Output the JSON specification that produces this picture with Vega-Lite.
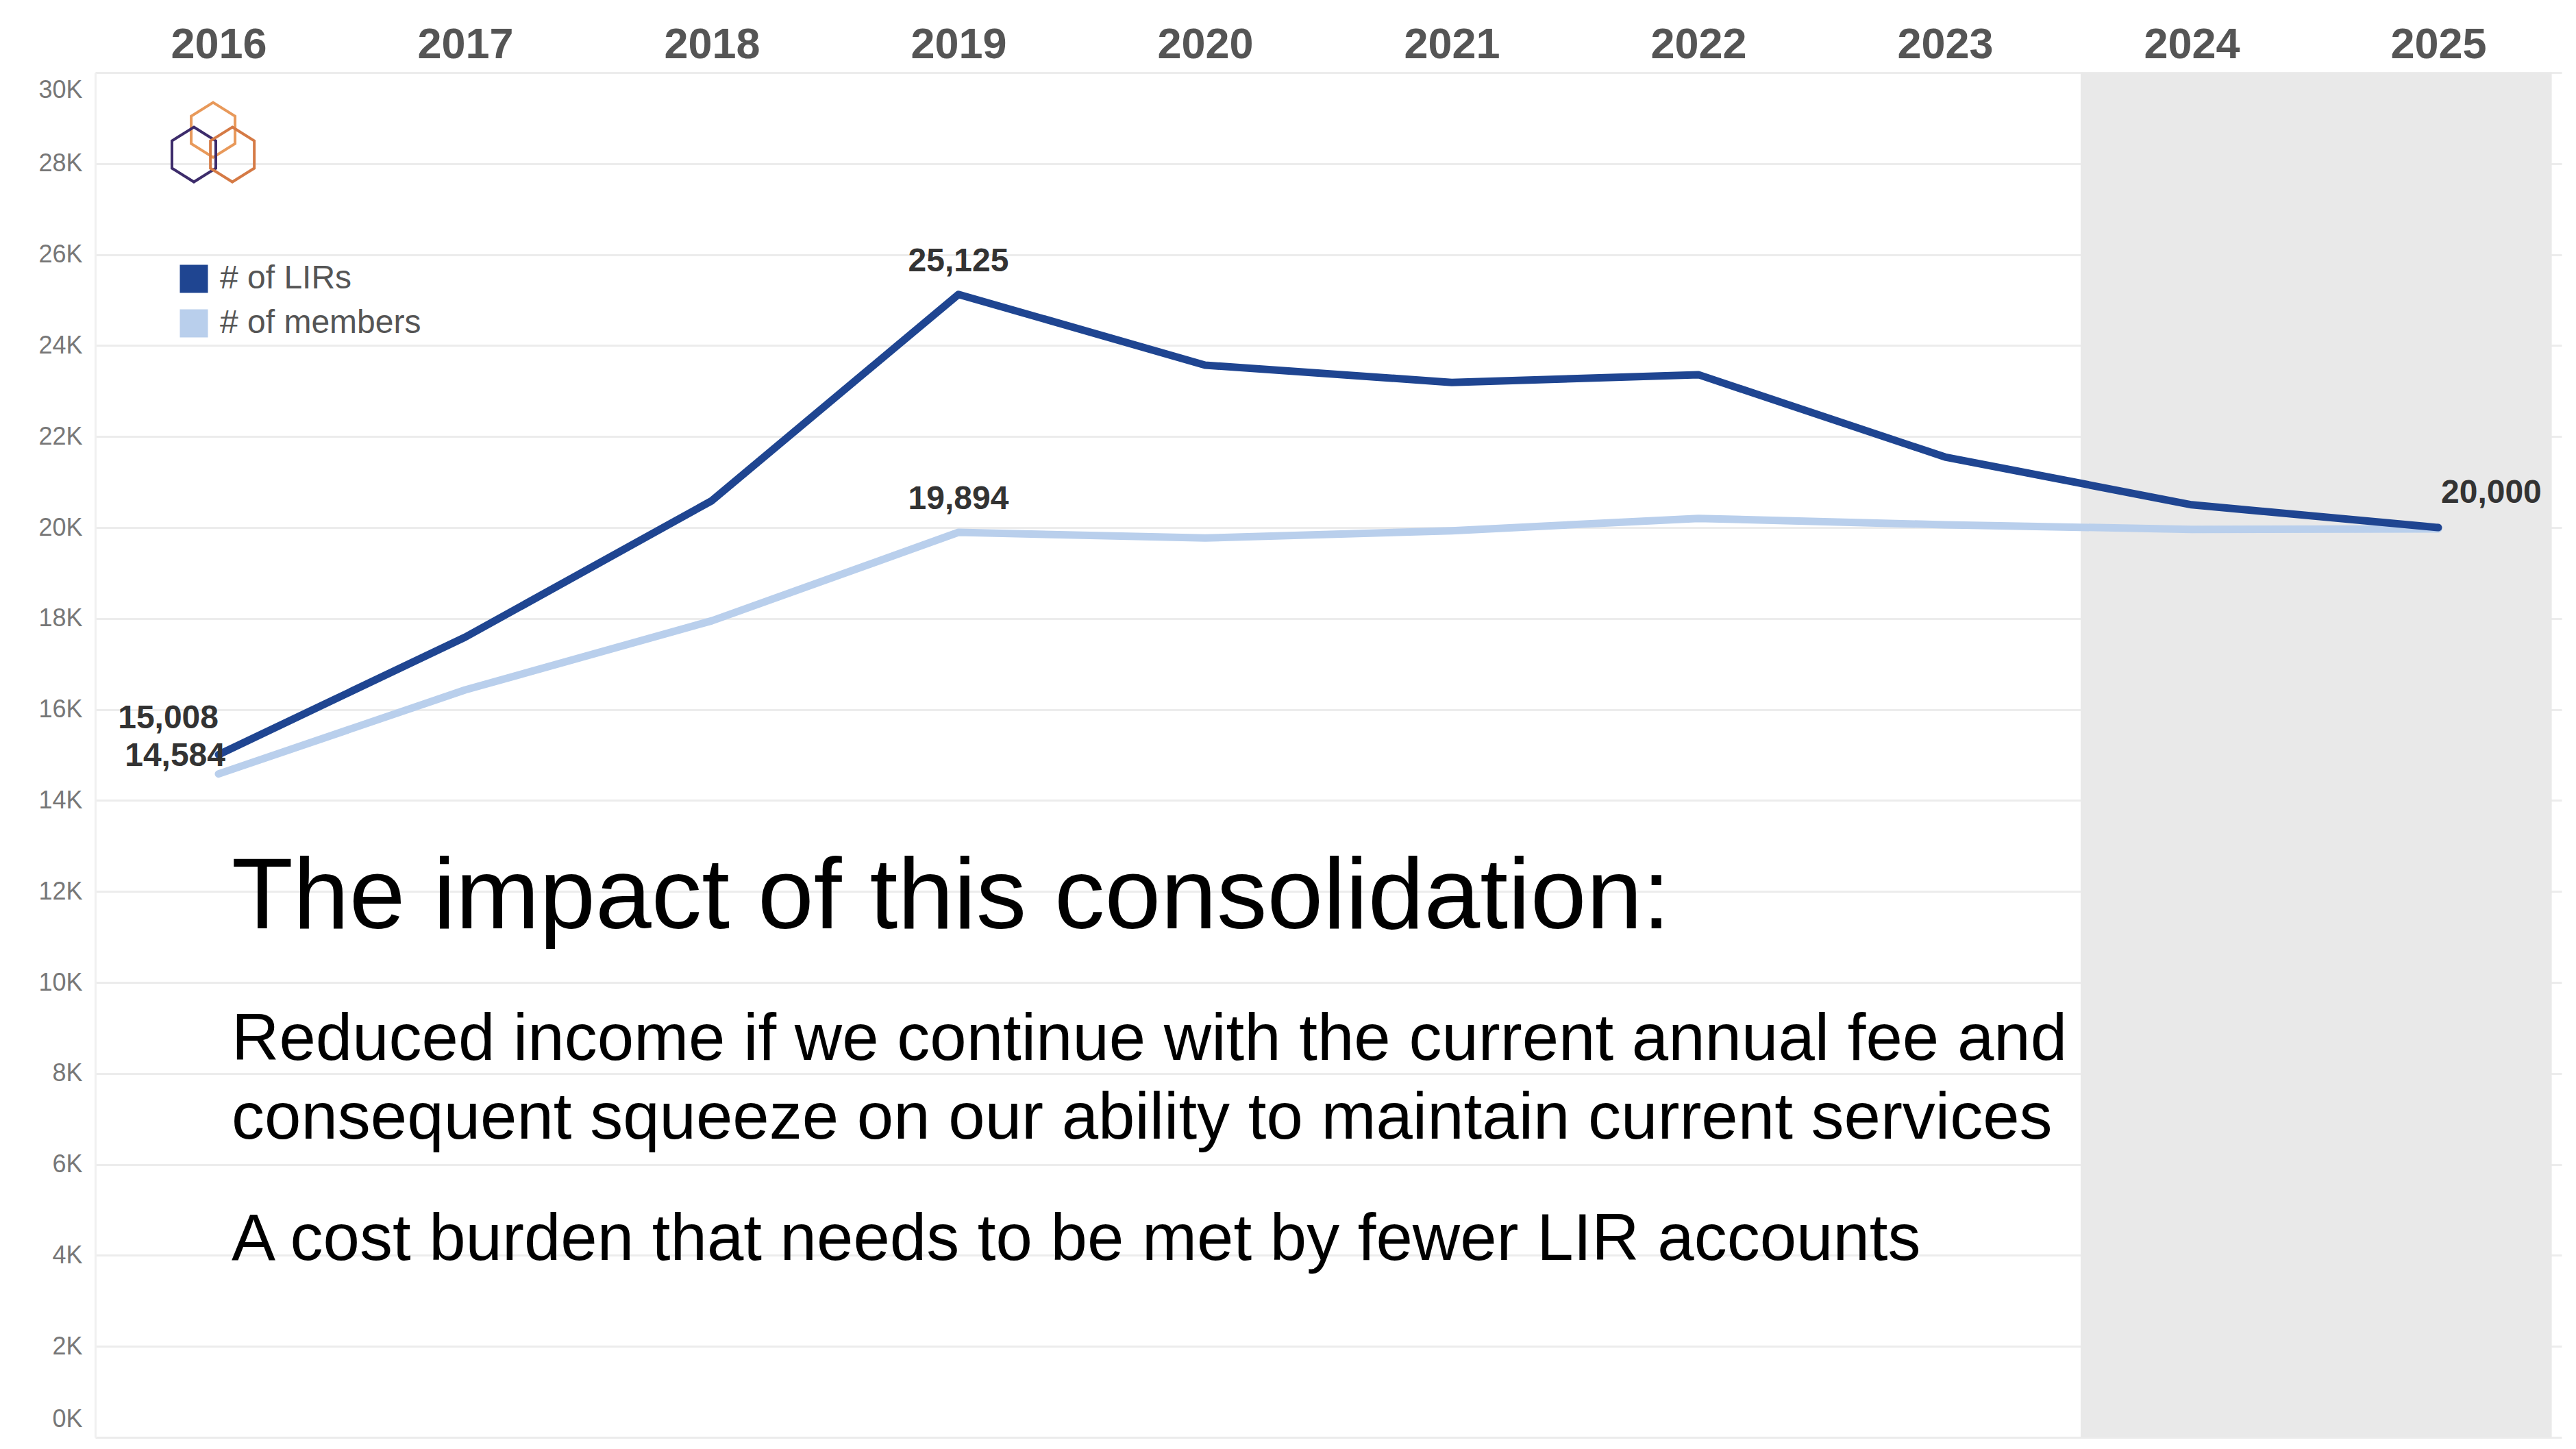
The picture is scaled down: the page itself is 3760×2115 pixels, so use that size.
{
  "$schema": "https://vega.github.io/schema/vega-lite/v6.json",
  "width": 3600,
  "height": 1992,
  "autosize": {"type": "none"},
  "padding": {"left": 139, "top": 106, "right": 21, "bottom": 17},
  "background": "white",
  "config": {"view": {"stroke": null}, "font": "Liberation Sans"},
  "datasets": {
    "series": [
      {"year": 2016, "series": "# of LIRs", "value": 15008},
      {"year": 2017, "series": "# of LIRs", "value": 17590},
      {"year": 2018, "series": "# of LIRs", "value": 20590},
      {"year": 2019, "series": "# of LIRs", "value": 25125},
      {"year": 2020, "series": "# of LIRs", "value": 23570},
      {"year": 2021, "series": "# of LIRs", "value": 23190},
      {"year": 2022, "series": "# of LIRs", "value": 23360},
      {"year": 2023, "series": "# of LIRs", "value": 21550},
      {"year": 2024, "series": "# of LIRs", "value": 20500},
      {"year": 2025, "series": "# of LIRs", "value": 20000},
      {"year": 2016, "series": "# of members", "value": 14584},
      {"year": 2017, "series": "# of members", "value": 16430},
      {"year": 2018, "series": "# of members", "value": 17950},
      {"year": 2019, "series": "# of members", "value": 19894},
      {"year": 2020, "series": "# of members", "value": 19770},
      {"year": 2021, "series": "# of members", "value": 19930},
      {"year": 2022, "series": "# of members", "value": 20200},
      {"year": 2023, "series": "# of members", "value": 20060},
      {"year": 2024, "series": "# of members", "value": 19960},
      {"year": 2025, "series": "# of members", "value": 19970}
    ]
  },
  "layer": [
    {
      "data": {"values": [{}]},
      "mark": {"type": "rect", "color": "#e9e9e9"},
      "encoding": {
        "x": {
          "datum": 2023.55,
          "type": "quantitative",
          "scale": {"domain": [2015.5, 2025.5], "nice": false, "zero": false},
          "axis": {
            "orient": "top", "title": null,
            "values": [2016, 2017, 2018, 2019, 2020, 2021, 2022, 2023, 2024, 2025],
            "format": "d", "labelFontSize": 63, "labelFontWeight": "bold",
            "labelColor": "#555555", "labelFont": "Liberation Sans",
            "ticks": false, "domain": false, "grid": false,
            "labelPadding": 22, "labelBaseline": "alphabetic", "labelFlush": false
          }
        },
        "x2": {"datum": 2025.46}
      }
    },
    {
      "data": {"name": "series"},
      "transform": [{"filter": "datum.series === '# of members'"}],
      "mark": {"type": "line", "strokeWidth": 11, "strokeJoin": "round", "strokeCap": "round"},
      "encoding": {
        "x": {"field": "year", "type": "quantitative"},
        "y": {
          "field": "value", "type": "quantitative",
          "scale": {"domain": [0, 30000], "nice": false},
          "axis": {
            "title": null,
            "values": [0, 2000, 4000, 6000, 8000, 10000, 12000, 14000, 16000, 18000, 20000, 22000, 24000, 26000, 28000, 30000],
            "labelExpr": "format(datum.value/1000,'d') + 'K'",
            "labelFontSize": 36, "labelColor": "#777777", "labelFont": "Liberation Sans",
            "ticks": false, "domain": true, "domainColor": "#f0f0f0", "domainWidth": 3,
            "grid": true, "gridColor": "#ececec", "gridWidth": 3,
            "labelPadding": 19, "labelFlush": true, "labelFlushOffset": -8
          }
        },
        "color": {
          "field": "series", "type": "nominal",
          "scale": {"domain": ["# of LIRs", "# of members"], "range": ["#1f4591", "#b9cfec"]},
          "legend": {
            "title": null, "orient": "none", "legendX": 120, "legendY": 277,
            "symbolType": "square", "symbolSize": 1681, "symbolStrokeWidth": 0,
            "labelFontSize": 48, "labelColor": "#555555", "labelFont": "Liberation Sans",
            "labelLimit": 2000,
            "rowPadding": 17, "labelOffset": 14, "padding": 0,
            "encode": {"symbols": {"update": {"fill": {"scale": "color", "field": "value"}, "fillOpacity": {"value": 1}, "strokeWidth": {"value": 0}}}}
          }
        }
      }
    },
    {
      "data": {"name": "series"},
      "transform": [{"filter": "datum.series === '# of LIRs'"}],
      "mark": {"type": "line", "strokeWidth": 11, "strokeJoin": "round", "strokeCap": "round"},
      "encoding": {
        "x": {"field": "year", "type": "quantitative"},
        "y": {"field": "value", "type": "quantitative"},
        "color": {"field": "series", "type": "nominal"}
      }
    },
    {
      "data": {"name": "series"},
      "transform": [{"filter": "datum.year === 2016 && datum.series === '# of LIRs'"}],
      "mark": {"type": "text", "align": "right", "baseline": "middle", "dx": 0, "dy": -52, "fontSize": 48, "fontWeight": "bold", "color": "#333333", "font": "Liberation Sans"},
      "encoding": {
        "x": {"field": "year", "type": "quantitative"},
        "y": {"field": "value", "type": "quantitative"},
        "text": {"field": "value", "type": "quantitative", "format": ","}
      }
    },
    {
      "data": {"name": "series"},
      "transform": [{"filter": "datum.year === 2016 && datum.series === '# of members'"}],
      "mark": {"type": "text", "align": "right", "baseline": "middle", "dx": 10, "dy": -26, "fontSize": 48, "fontWeight": "bold", "color": "#333333", "font": "Liberation Sans"},
      "encoding": {
        "x": {"field": "year", "type": "quantitative"},
        "y": {"field": "value", "type": "quantitative"},
        "text": {"field": "value", "type": "quantitative", "format": ","}
      }
    },
    {
      "data": {"name": "series"},
      "transform": [{"filter": "datum.year === 2019"}],
      "mark": {"type": "text", "align": "center", "baseline": "middle", "dy": -48, "fontSize": 48, "fontWeight": "bold", "color": "#333333", "font": "Liberation Sans"},
      "encoding": {
        "x": {"field": "year", "type": "quantitative"},
        "y": {"field": "value", "type": "quantitative"},
        "text": {"field": "value", "type": "quantitative", "format": ","}
      }
    },
    {
      "data": {"name": "series"},
      "transform": [{"filter": "datum.year === 2025 && datum.series === '# of LIRs'"}],
      "mark": {"type": "text", "align": "left", "baseline": "middle", "dx": 4, "dy": -50, "fontSize": 48, "fontWeight": "bold", "color": "#333333", "font": "Liberation Sans"},
      "encoding": {
        "x": {"field": "year", "type": "quantitative"},
        "y": {"field": "value", "type": "quantitative"},
        "text": {"field": "value", "type": "quantitative", "format": ","}
      }
    },
    {
      "data": {"values": [{}]},
      "mark": {"type": "text", "align": "left", "baseline": "alphabetic", "fontSize": 147, "color": "#000000", "font": "Liberation Sans", "text": "The impact of this consolidation:"},
      "encoding": {
        "x": {"datum": 2016.053, "type": "quantitative"},
        "y": {"datum": 11190, "type": "quantitative"}
      }
    },
    {
      "data": {"values": [{}]},
      "mark": {"type": "text", "align": "left", "baseline": "alphabetic", "fontSize": 96, "lineHeight": 115, "color": "#000000", "font": "Liberation Sans", "text": ["Reduced income if we continue with the current annual fee and", "consequent squeeze on our ability to maintain current services"]},
      "encoding": {
        "x": {"datum": 2016.053, "type": "quantitative"},
        "y": {"datum": 8298, "type": "quantitative"}
      }
    },
    {
      "data": {"values": [{}]},
      "mark": {"type": "text", "align": "left", "baseline": "alphabetic", "fontSize": 96, "color": "#000000", "font": "Liberation Sans", "text": "A cost burden that needs to be met by fewer LIR accounts"},
      "encoding": {
        "x": {"datum": 2016.053, "type": "quantitative"},
        "y": {"datum": 3900, "type": "quantitative"}
      }
    },
    {
      "data": {"values": [{}]},
      "mark": {"type": "point", "shape": "M0,-1L0.8,-0.5L0.8,0.5L0,1L-0.8,0.5L-0.8,-0.5Z", "filled": false, "stroke": "#e8995a", "strokeWidth": 4, "size": 6400, "opacity": 1},
      "encoding": {
        "x": {"datum": 2015.978, "type": "quantitative"},
        "y": {"datum": 28740, "type": "quantitative"}
      }
    },
    {
      "data": {"values": [{}]},
      "mark": {"type": "point", "shape": "M0,-1L0.8,-0.5L0.8,0.5L0,1L-0.8,0.5L-0.8,-0.5Z", "filled": false, "stroke": "#3d2c6b", "strokeWidth": 4, "size": 6400, "opacity": 1},
      "encoding": {
        "x": {"datum": 2015.9, "type": "quantitative"},
        "y": {"datum": 28200, "type": "quantitative"}
      }
    },
    {
      "data": {"values": [{}]},
      "mark": {"type": "point", "shape": "M0,-1L0.8,-0.5L0.8,0.5L0,1L-0.8,0.5L-0.8,-0.5Z", "filled": false, "stroke": "#d57a45", "strokeWidth": 4, "size": 6400, "opacity": 1},
      "encoding": {
        "x": {"datum": 2016.056, "type": "quantitative"},
        "y": {"datum": 28200, "type": "quantitative"}
      }
    }
  ]
}
